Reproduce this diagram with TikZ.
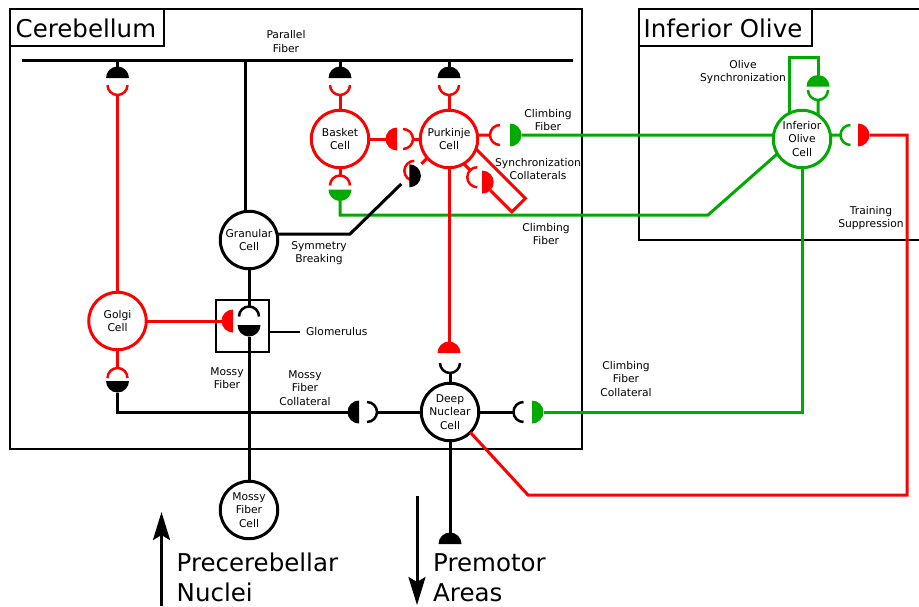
\documentclass[tikz,border=0pt]{standalone}
\usepackage{fontspec}
\setmainfont{DejaVu Sans}
\usetikzlibrary{arrows.meta,calc}
\definecolor{cred}{RGB}{255,0,0}
\definecolor{cgreen}{RGB}{0,170,0}
\begin{document}
\begin{tikzpicture}[x=1pt,y=1pt,
  cell/.style={circle,draw,line width=3pt,minimum size=57.5pt,inner sep=0pt,outer sep=0pt,align=center,font=\fontsize{10.7}{13.3}\selectfont},
  lbl/.style={align=center,font=\fontsize{10.7}{13.3}\selectfont,inner sep=0pt},
  wire/.style={line width=3pt},
  framebox/.style={draw,line width=1.5pt},
  titletext/.style={font=\fontsize{24.5}{29}\selectfont,inner sep=0pt,anchor=base west},
  bigtext/.style={font=\fontsize{24.5}{30}\selectfont,inner sep=0pt,anchor=north west,align=left},
  bigarrow/.style={line width=3pt,-{Stealth[length=28pt,width=17pt,inset=5pt]}},
  term/.pic={\fill (0,-11.5) arc[start angle=-90,end angle=-270,radius=11.5] -- cycle;},
  cup/.pic={\draw[line width=2.5pt] (0,10) arc[start angle=90,end angle=-90,radius=10];},
]
\useasboundingbox (0,0) rectangle (919,-606);

% frames
\draw[framebox] (10,-9) rectangle (582,-449);
\draw[framebox] (10,-9) rectangle (164,-46);
\node[titletext] (tcer) at (15.5,-37.5) {Cerebellum};
\draw[framebox] (921,-9) -- (639,-9) -- (639,-240) -- (921,-240);
\draw[framebox] (639,-9) rectangle (812,-46);
\node[titletext] (tio) at (643.5,-37.5) {Inferior Olive};

% cells
\node[cell] (gran) at (249,-240) {Granular\\Cell};
\node[cell,draw=cred] (basket) at (340,-139) {Basket\\Cell};
\node[cell,draw=cred] (purk) at (449,-139) {Purkinje\\Cell};
\node[cell,draw=cred] (golgi) at (117.5,-321) {Golgi\\Cell};
\node[cell] (dn) at (450,-412) {Deep\\Nuclear\\Cell};
\node[cell] (mfc) at (249,-510) {Mossy\\Fiber\\Cell};
\node[cell,draw=cgreen] (io) at (802,-139) {Inferior\\Olive\\Cell};

% parallel fiber
\coordinate (pfL) at (22,-60);
\coordinate (pfR) at (573,-60);
\draw[wire] (pfL) -- (pfR);
\draw[wire] (gran.96) -- (gran.96 |- pfL);
\node[lbl] (lpf) at (286,-41.5) {Parallel\\Fiber};

% parallel fiber synapses
\foreach \sx/\cl in {117.5/golgi,340/basket,449/purk}{
  \draw[wire] (\sx,-60) -- (\sx,-66.5);
  \pic[rotate=-90] at (\sx,-78) {term};
  \pic[cred,rotate=-90] at (\sx,-85) {cup};
  \draw[wire,cred] (\sx,-95) -- (\cl.north);
}

% basket -> purkinje
\coordinate (bpT) at (385.5,-139);
\coordinate (bpC) at (413,-139);
\draw[wire,cred] (basket.east) -- (bpT);
\pic[cred] at (397,-139) {term};
\pic[cred] at (403,-139) {cup};
\draw[wire,cred] (bpC) -- (purk.west);

% climbing fiber -> purkinje
\coordinate (cpC) at (490,-135);
\coordinate (cpT) at (521.5,-135);
\draw[wire,cred] (purk.8) -- (cpC);
\pic[cred,rotate=180] at (500,-135) {cup};
\pic[cgreen,rotate=180] at (510,-135) {term};
\draw[wire,cgreen] (cpT) -- (io.172);
\node[lbl] (lcf1) at (548,-120) {Climbing\\Fiber};

% climbing fiber -> basket
\coordinate (cbC) at (340,-175.5);
\coordinate (cbT) at (340,-201);
\coordinate (cb1) at (340,-215);
\coordinate (cb2) at (708,-215);
\draw[wire,cred] (basket.south) -- (cbC);
\pic[cred,rotate=90] at (340,-185.5) {cup};
\pic[cgreen,rotate=90] at (340,-189.5) {term};
\draw[wire,cgreen] (cbT) -- (cb1) -- (cb2) -- (io.211);
\node[lbl] (lcf2) at (546,-234) {Climbing\\Fiber};

% symmetry breaking (granular -> purkinje)
\begin{scope}[shift={(449,-139)},rotate=-135]
  \coordinate (sbS) at (28.7,-2);
  \coordinate (sbC) at (37,-2);
  \coordinate (sbT) at (65.5,-2);
  \pic[cred,rotate=180] at (47,-2) {cup};
  \pic[rotate=180] at (54,-2) {term};
\end{scope}
\draw[wire,cred] (sbS) -- (sbC);
\coordinate (sbK) at (350,-234);
\draw[wire] (sbT) -- (sbK) -- (gran.12);
\node[lbl] (lsb) at (319,-253) {Symmetry\\Breaking};

% synchronization collaterals
\begin{scope}[shift={(449,-139)},rotate=-45]
  \coordinate (scS) at (27.9,-7);
  \coordinate (scC) at (37,-7);
  \coordinate (scT) at (65.5,-7);
  \coordinate (scK1) at (96,-7);
  \coordinate (scK2) at (96,12);
  \coordinate (scO) at (26.1,12);
  \pic[cred,rotate=180] at (47,-7) {cup};
  \pic[cred,rotate=180] at (54,-7) {term};
\end{scope}
\draw[wire,cred] (scS) -- (scC);
\draw[wire,cred] (scT) -- (scK1) -- (scK2) -- (scO);
\node[lbl] (lsc) at (538,-169) {Synchronization\\Collaterals};

% golgi -> glomerulus, mossy fiber -> granular
\draw[line width=1.5pt] (216,-300) rectangle (269,-352);
\coordinate (glL) at (269,-332);
\coordinate (glR) at (300,-332);
\draw[line width=1.5pt] (glL) -- (glR);
\node[lbl,anchor=west] (lgl) at (306,-332) {Glomerulus};
\coordinate (ggT) at (221.5,-321);
\draw[wire,cred] (golgi.east) -- (ggT);
\pic[cred] at (233,-321) {term};
\coordinate (mgC) at (249,-306.5);
\coordinate (mgT) at (249,-336.5);
\draw[wire] (gran.south) -- (mgC);
\pic[rotate=90] at (249,-316.5) {cup};
\pic[rotate=90] at (249,-325) {term};
\draw[wire] (mgT) -- (mfc.north);
\node[lbl] (lmf) at (227,-378) {Mossy\\Fiber};

% mossy fiber collateral -> golgi and deep nuclear
\coordinate (mcgC) at (117.5,-368);
\coordinate (mcgT) at (117.5,-392.5);
\coordinate (mcK) at (117.5,-412);
\coordinate (mdT) at (347.5,-412);
\coordinate (mdC) at (377,-412);
\draw[wire,cred] (golgi.south) -- (mcgC);
\pic[cred,rotate=90] at (117.5,-378) {cup};
\pic[rotate=90] at (117.5,-381) {term};
\draw[wire] (mcgT) -- (mcK) -- (mdT);
\pic at (359,-412) {term};
\pic at (367,-412) {cup};
\draw[wire] (mdC) -- (dn.west);
\node[lbl] (lmfc) at (305,-388) {Mossy\\Fiber\\Collateral};

% purkinje -> deep nuclear
\coordinate (pdT) at (449,-341.5);
\coordinate (pdC) at (450,-373);
\draw[wire,cred] (purk.south) -- (pdT);
\pic[cred,rotate=-90] at (449,-353) {term};
\pic[rotate=-90] at (450,-363) {cup};
\draw[wire] (pdC) -- (dn.north);

% climbing fiber collateral -> deep nuclear
\coordinate (cdC) at (513.5,-412);
\coordinate (cdT) at (543.5,-412);
\coordinate (cdK) at (802,-412);
\draw[wire] (dn.east) -- (cdC);
\pic[rotate=180] at (523.5,-412) {cup};
\pic[cgreen,rotate=180] at (532,-412) {term};
\draw[wire,cgreen] (cdT) -- (cdK) -- (io.south);
\node[lbl] (lcfc) at (626,-379) {Climbing\\Fiber\\Collateral};

% olive synchronization
\coordinate (osK) at (818,-57);
\coordinate (osT) at (818,-75);
\coordinate (osC) at (818,-100);
\draw[wire,cgreen] (io.115) |- (osK) -- (osT);
\pic[cgreen,rotate=-90] at (818,-86.5) {term};
\pic[cgreen,rotate=-90] at (818,-90) {cup};
\draw[wire,cgreen] (osC) -- (io.56);
\node[lbl] (los) at (743,-72) {Olive\\Synchronization};

% training suppression
\coordinate (tsC) at (840.5,-135);
\coordinate (tsT) at (869.5,-135);
\coordinate (tsK1) at (907,-135);
\coordinate (tsK2) at (907,-495);
\coordinate (tsK3) at (528,-495);
\draw[wire,cgreen] (io.8) -- (tsC);
\pic[cgreen,rotate=180] at (850.5,-135) {cup};
\pic[cred,rotate=180] at (858,-135) {term};
\draw[wire,cred] (tsT) -- (tsK1) -- (tsK2) -- (tsK3) -- (dn.-45);
\node[lbl] (lts) at (871,-218) {Training\\Suppression};

% deep nuclear output
\coordinate (doT) at (450,-532.5);
\draw[wire] (dn.south) -- (doT);
\pic[rotate=-90] at (450,-544) {term};

% bottom arrows and labels
\coordinate (a1s) at (161.5,-606);
\coordinate (a1e) at (161.5,-512);
\draw[bigarrow] (a1s) -- (a1e);
\node[bigtext] (lpn) at (176.5,-553) {Precerebellar\\Nuclei};
\coordinate (a2s) at (417,-496);
\coordinate (a2e) at (417,-605);
\draw[bigarrow] (a2s) -- (a2e);
\node[bigtext] (lpa) at (433,-553.7) {Premotor\\Areas};
\end{tikzpicture}
\end{document}
